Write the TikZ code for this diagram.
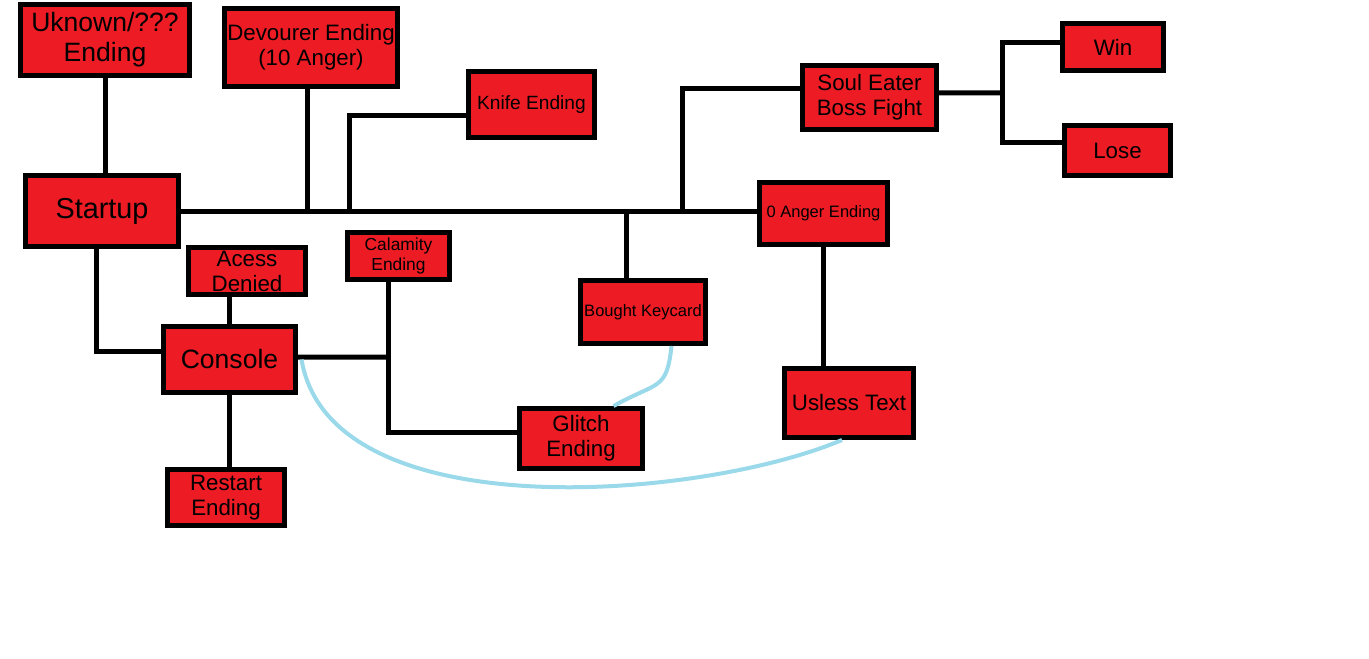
\documentclass[tikz,border=0pt]{standalone}
\usepackage{fontspec}
\setmainfont{Liberation Sans}
\usetikzlibrary{positioning}
\definecolor{paintred}{HTML}{ED1C24}
\definecolor{paintblue}{HTML}{99D9EA}
\tikzset{
  %Define style for the ending boxes
  endbox/.style={
    rectangle,
    draw=black, line width=0.1cm,
    fill=paintred,
    inner sep=0pt,
    align=center},
  dims/.style 2 args={minimum width=#1*0.02cm, minimum height=#2*0.02cm},
  % font sizes
  hugefs/.style={font=\fontsize{16.4}{19}\selectfont},
  bigfs/.style={font=\fontsize{15.1}{17}\selectfont},
  midfs/.style={font=\fontsize{12.7}{14.2}\selectfont},
  knifefs/.style={font=\fontsize{10.9}{12.5}\selectfont},
  smallfs/.style={font=\fontsize{9.9}{11.6}\selectfont},
  tinyfs/.style={font=\fontsize{9.4}{11}\selectfont},
  % Define style for connectors
  link/.style={
    draw=black,
    line width=0.1cm,
    line join=miter},
  hint/.style={
    draw=paintblue,
    line width=0.08cm}
}

\begin{document}
\begin{tikzpicture}[x=0.02cm,y=-0.02cm]
  \useasboundingbox (0,0) rectangle (1369,659);
  % boxes
  \node[endbox,bigfs,dims={169}{71}] (unknown) at (105,40) {Uknown/???\\Ending};
  \node[endbox,midfs,dims={173}{78}] (devourer) at (311,47.5) {Devourer Ending\\(10 Anger)};
  \node[endbox,hugefs,dims={153}{71}] (startup) at (102,211) {Startup};
  \node[endbox,knifefs,dims={126}{66}] (knife) at (531.5,104.5) {Knife Ending};
  \node[endbox,midfs,dims={134}{64}] (souleater) at (869.5,97.5) {Soul Eater\\Boss Fight};
  \node[endbox,tinyfs,dims={128}{62}] (zero) at (823.5,213.5) {0 Anger Ending};
  \node[endbox,midfs,dims={101}{47}] (win) at (1113,47) {Win};
  \node[endbox,midfs,dims={106}{50}] (lose) at (1117.5,150.5) {Lose};
  \node[endbox,midfs,dims={117}{47}] (denied) at (247,271) {Acess\\Denied};
  \node[endbox,smallfs,dims={102}{47}] (calamity) at (398.5,256) {Calamity\\Ending};
  \node[endbox,bigfs,dims={132}{66}] (console) at (229.5,359.5) {Console};
  \node[endbox,midfs,dims={117}{56}] (restart) at (226,497.5) {Restart\\Ending};
  \node[endbox,tinyfs,dims={125}{63}] (keycard) at (643,312) {Bought Keycard};
  \node[endbox,midfs,dims={123}{60}] (glitch) at (581,438.5) {Glitch\\Ending};
  \node[endbox,midfs,dims={129}{69}] (useless) at (849,403) {Usless Text};

  % junctions
  \coordinate (knifejoint) at (349,211);
  \coordinate (keyjoint) at (626,211);
  \coordinate (souljoint) at (682,211);
  \coordinate (fightjoint) at (1002,93);
  \coordinate (consolejoint) at (388,357);

  % connectors
  \draw[link] (unknown.south) -- (unknown.south |- startup.north);
  \draw[link] (startup.east) -- (startup.east -| zero.west);
  \draw[link] ([xshift=-2pt]devourer.south) -- ([xshift=-2pt]devourer.south |- startup.east);
  \draw[link] ([yshift=-6.5pt]knife.west) -| (knifejoint);
  \draw[link] (keyjoint) -- (keyjoint |- keycard.north);
  \draw[link] ([yshift=5.4pt]souleater.west) -| (souljoint);
  \draw[link] (zero.south) -- (zero.south |- useless.north);
  \draw[link] ([yshift=2.6pt]souleater.east) -- (fightjoint);
  \draw[link] ([yshift=2.8pt]win.west) -| (fightjoint) |- ([yshift=4.3pt]lose.west);
  \draw[link] ([xshift=-3.4pt]startup.south) |- ([yshift=4.3pt]console.west);
  \draw[link] (denied.south -| console.north) -- (console.north);
  \draw[link] (console.south) -- (console.south |- restart.north);
  \draw[link] ([yshift=1.4pt]console.east) -- (consolejoint);
  \draw[link] (calamity.south -| consolejoint) -- (consolejoint)
    |- ([yshift=3.7pt]glitch.west);

  % blue hints
  \draw[hint] ([xshift=2pt]console.east) .. controls (330,530) and (700,500) .. ([xshift=-4pt]useless.south);
  \draw[hint] (keycard.-50) .. controls +(-5,45) and +(45,-25) .. (glitch.45);
\end{tikzpicture}
\end{document}
